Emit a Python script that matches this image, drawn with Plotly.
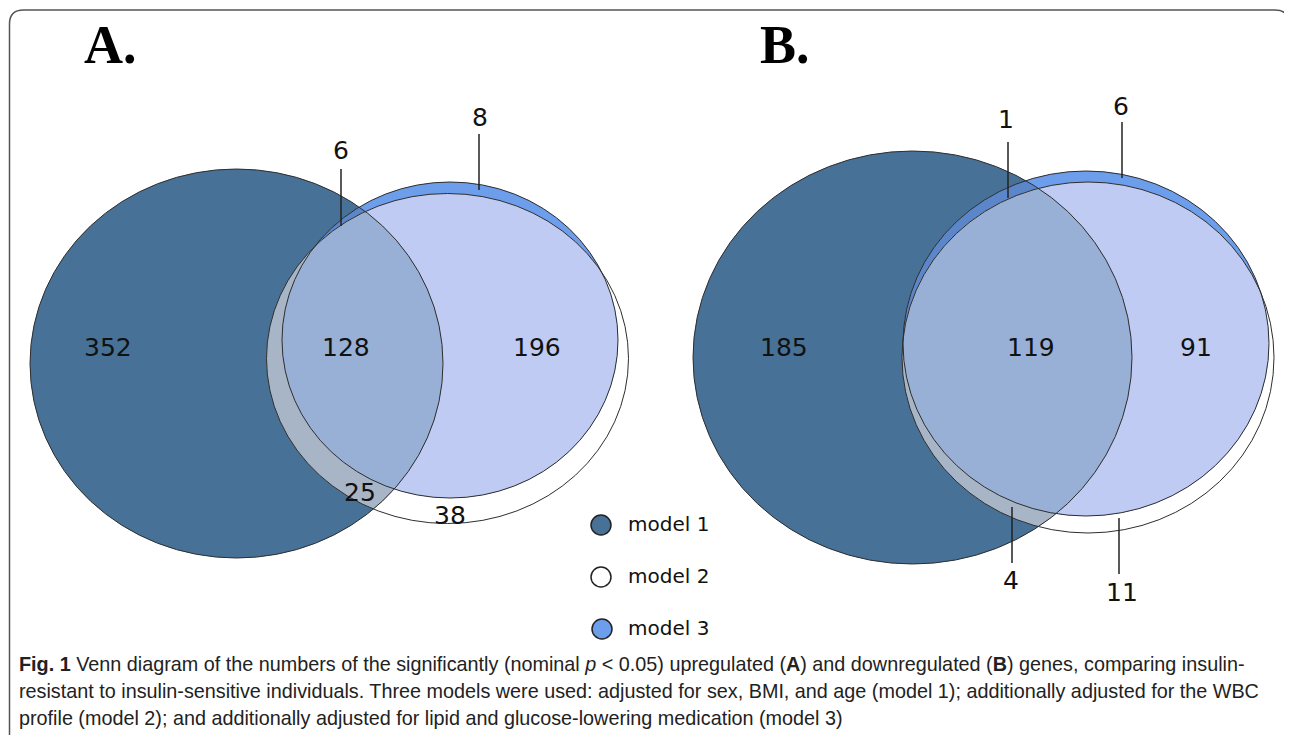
import numpy as np
import plotly.graph_objects as go

# ---------------- data ----------------
panel_labels = ["A.", "B."]
region_names = ["model 1 only", "1∩2∩3", "2∩3", "1∩2", "model 2 only", "model 3 only", "1∩3"]
counts_A = [352, 128, 196, 25, 38, 8, 6]
counts_B = [185, 119, 91, 4, 11, 6, 1]
legend_labels = ["model 1", "model 2", "model 3"]
caption_lines = [
    "<b>Fig. 1</b> Venn diagram of the numbers of the significantly (nominal <i>p</i> &lt; 0.05) upregulated (<b>A</b>) and downregulated (<b>B</b>) genes, comparing insulin-",
    "resistant to insulin-sensitive individuals. Three models were used: adjusted for sex, BMI, and age (model 1); additionally adjusted for the WBC",
    "profile (model 2); and additionally adjusted for lipid and glucose-lowering medication (model 3)",
]

# ---------------- layout / style ----------------
W, H = 1292, 735
OFF = 8  # page body margin of the browser
C_M1 = "#477196"
C_M3 = "#6d9eeb"
C_13 = "#5b86c9"
C_23 = "#bfcbf3"
C_12 = "#a7b5c7"
C_123 = "#98b0d6"
EDGE = "#2e2e2e"

# ellipses (cx, cy, rx, ry) for model 1, 2, 3 in each panel
ell_A = [(236.5, 363.5, 206.5, 194.5), (447.5, 358.5, 181, 165), (450, 340, 168, 158)]
ell_B = [(912.5, 357.5, 219.5, 206.5), (1088, 357.5, 186, 175.5), (1086, 343.5, 183, 172.5)]

# label positions per region (same order as region_names)
pos_A = [(108, 347), (346, 347), (537, 347), (360, 492), (450, 515), (480, 117), (341, 150)]
pos_B = [(784, 347), (1031, 347), (1196, 347), (1011, 580), (1122, 592), (1121, 106), (1006, 119)]
leaders_A = {5: (479, 134, 190), 6: (341, 169, 226)}
leaders_B = {5: (1122, 122, 178), 6: (1008, 142, 198), 3: (1012, 507, 563), 4: (1119, 518, 574)}


def ell_pts(e, n=1440):
    cx, cy, rx, ry = e
    t = np.linspace(0, 2 * np.pi, n, endpoint=False)
    return np.column_stack([cx + rx * np.cos(t), cy + ry * np.sin(t)])


def inside(p, e):
    cx, cy, rx, ry = e
    return ((p[:, 0] - cx) / rx) ** 2 + ((p[:, 1] - cy) / ry) ** 2 <= 1.0 + 1e-9


def intersect(ells):
    pts = []
    for i, e in enumerate(ells):
        p = ell_pts(e)
        m = np.ones(len(p), bool)
        for j, f in enumerate(ells):
            if j != i:
                m &= inside(p, f)
        pts.append(p[m])
    pts = np.vstack(pts)
    if len(pts) < 3:
        return None
    c = pts.mean(axis=0)
    ang = np.arctan2(pts[:, 1] - c[1], pts[:, 0] - c[0])
    return pts[np.argsort(ang)]


def path(p):
    return "M " + " L ".join(f"{x:.2f},{y:.2f}" for x, y in p) + " Z"


shapes = []


def fill_shape(p, color):
    if p is not None:
        shapes.append(dict(type="path", path=path(p), xref="x", yref="y",
                           fillcolor=color, line=dict(width=0), layer="above"))


def draw_venn(ells):
    e1, e2, e3 = ells
    fill_shape(ell_pts(e1), C_M1)
    fill_shape(ell_pts(e3), C_M3)
    fill_shape(intersect([e1, e3]), C_13)
    fill_shape(intersect([e2, e3]), C_23)
    fill_shape(intersect([e1, e2]), C_12)
    fill_shape(intersect([e1, e2, e3]), C_123)
    for e in ells:
        cx, cy, rx, ry = e
        shapes.append(dict(type="circle", xref="x", yref="y", x0=cx - rx, x1=cx + rx,
                           y0=cy - ry, y1=cy + ry, line=dict(color=EDGE, width=1),
                           fillcolor="rgba(0,0,0,0)", layer="above"))


draw_venn(ell_A)
draw_venn(ell_B)

annotations = []
NUM_FONT = dict(family="DejaVu Sans, Verdana, sans-serif", size=25, color="#111111")
for counts, pos, leaders in [(counts_A, pos_A, leaders_A), (counts_B, pos_B, leaders_B)]:
    for k, (v, (x, y)) in enumerate(zip(counts, pos)):
        annotations.append(dict(x=x, y=y, xref="x", yref="y", text=str(v), showarrow=False,
                                font=NUM_FONT, xanchor="center", yanchor="middle"))
    for k, (lx, y0, y1) in leaders.items():
        shapes.append(dict(type="line", xref="x", yref="y", x0=lx, x1=lx, y0=y0, y1=y1,
                           line=dict(color="#222222", width=1.5), layer="above"))

# panel letters
for lab, x in zip(panel_labels, [110, 785]):
    annotations.append(dict(x=x, y=45, xref="x", yref="y", text=f"<b>{lab}</b>", showarrow=False,
                            font=dict(family="Liberation Serif, Times New Roman, serif", size=54, color="#000"),
                            xanchor="center", yanchor="middle"))

# legend
leg_x = [601, 601, 602]
leg_y = [525, 577, 629]
leg_fill = [C_M1, "#ffffff", C_M3]
fig = go.Figure()
fig.add_trace(go.Scatter(x=leg_x, y=leg_y, mode="markers", hoverinfo="skip",
                         marker=dict(size=20, color=leg_fill, line=dict(color="#222222", width=1.5)),
                         showlegend=False))
for lab, y in zip(legend_labels, leg_y):
    annotations.append(dict(x=626, y=y - 1, xref="x", yref="y", text=lab, showarrow=False,
                            font=dict(family="DejaVu Sans, Verdana, sans-serif", size=20, color="#111"),
                            xanchor="left", yanchor="middle"))

# caption
for line, y in zip(caption_lines, [664, 691, 718]):
    annotations.append(dict(x=17, y=y, xref="x", yref="y", text=line, showarrow=False,
                            font=dict(family="Liberation Sans, Arial, sans-serif", size=19.8, color="#222"),
                            xanchor="left", yanchor="middle"))

# frame with rounded top corners
r = 14
frame = (f"M 9.5,{H + 10} L 9.5,{10 + r} Q 9.5,10 {9.5 + r},10 L {1289 - r},10 "
         f"Q 1289,10 1289,{10 + r} L 1289,{H + 10}")
shapes.insert(0, dict(type="path", path=frame, xref="x", yref="y",
                      line=dict(color="#555555", width=1.5), layer="below"))

fig.update_layout(
    width=W, height=H, margin=dict(l=0, r=0, t=0, b=0),
    paper_bgcolor="white", plot_bgcolor="white",
    xaxis=dict(range=[OFF, W + OFF], visible=False, fixedrange=True),
    yaxis=dict(range=[H + OFF, OFF], visible=False, fixedrange=True),
    shapes=shapes, annotations=annotations, showlegend=False,
)
fig.write_html("out.html")
